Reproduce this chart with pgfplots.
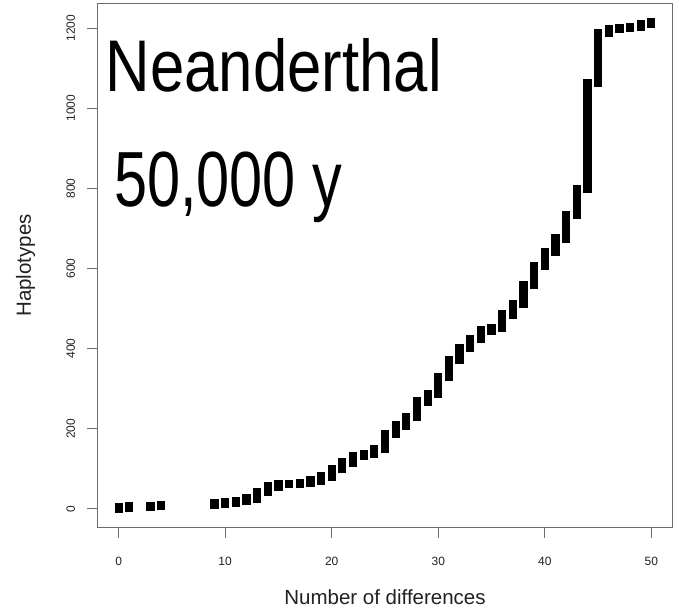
\documentclass[border=0pt]{standalone}
\usepackage{fontspec}
\setmainfont{Liberation Sans}
\newfontfamily\narrowA[FakeStretch=0.843]{Liberation Sans}
\newfontfamily\narrowB[FakeStretch=0.76]{Liberation Sans}
\usepackage{pgfplots}
\pgfplotsset{compat=1.18}
\definecolor{boxgray}{gray}{0.42}
\definecolor{labelgray}{gray}{0.13}

\begin{document}
\begin{tikzpicture}
\begin{axis}[
  scale only axis,
  width=575.4pt, height=524.4pt,
  xmin=-2, xmax=52, ymin=-47, ymax=1262,
  axis line style={draw=boxgray, line width=1.2pt},
  xtick={0,10,...,50}, ytick={0,200,...,1200},
  xtick pos=left, ytick pos=left,
  tick align=outside, major tick length=10pt,
  every tick/.style={draw=boxgray, line width=1.2pt},
  /pgf/number format/assume math mode=true,
  /pgf/number format/1000 sep={},
  tick label style={font=\fontsize{12}{14}\selectfont, text=labelgray, inner sep=0pt},
  xticklabel style={anchor=base, yshift=-27.3pt},
  yticklabel style={xshift=-12.3pt, rotate=90, anchor=base},
  xlabel={Number of differences},
  ylabel={Haplotypes},
  every axis x label/.style={at={(rel axis cs:0.5,0)}, anchor=base, yshift=-76.3pt,
    font=\fontsize{20.5}{24}\selectfont, text=labelgray, inner sep=0pt},
  every axis y label/.style={at={(rel axis cs:0,0.5)}, xshift=-66.3pt, rotate=90, anchor=base,
    font=\fontsize{20.5}{24}\selectfont, text=labelgray, inner sep=0pt},
  unbounded coords=jump,
]
% one thick segment per number of differences: haplotype index range
\addplot[black, line width=8.2pt, line cap=rect] coordinates {
  (0,0) (0,5) (0,nan)
  (1,3) (1,6) (1,nan)
  (3,4) (3,8) (3,nan)
  (4,7) (4,10) (4,nan)
  (9,9) (9,14) (9,nan)
  (10,13) (10,16) (10,nan)
  (11,15) (11,19) (11,nan)
  (12,19) (12,28) (12,nan)
  (13,25) (13,43) (13,nan)
  (14,42) (14,57) (14,nan)
  (15,56) (15,63) (15,nan)
  (16,62) (16,63) (16,nan)
  (17,63) (17,65) (17,nan)
  (18,64) (18,72) (18,nan)
  (19,70) (19,81) (19,nan)
  (20,81) (20,100) (20,nan)
  (21,100) (21,116) (21,nan)
  (22,115) (22,131) (22,nan)
  (23,131) (23,136) (23,nan)
  (24,136) (24,149) (24,nan)
  (25,149) (25,187) (25,nan)
  (26,187) (26,208) (26,nan)
  (27,208) (27,229) (27,nan)
  (28,229) (28,268) (28,nan)
  (29,268) (29,286) (29,nan)
  (30,286) (30,330) (30,nan)
  (31,330) (31,372) (31,nan)
  (32,372) (32,401) (32,nan)
  (33,401) (33,425) (33,nan)
  (34,425) (34,445) (34,nan)
  (35,445) (35,451) (35,nan)
  (36,451) (36,485) (36,nan)
  (37,485) (37,511) (37,nan)
  (38,511) (38,558) (38,nan)
  (39,558) (39,606) (39,nan)
  (40,606) (40,642) (40,nan)
  (41,642) (41,675) (41,nan)
  (42,675) (42,733) (42,nan)
  (43,733) (43,798) (43,nan)
  (44,798) (44,1063) (44,nan)
  (45,1063) (45,1187) (45,nan)
  (46,1187) (46,1197) (46,nan)
  (47,1197) (47,1200) (47,nan)
  (48,1200) (48,1202) (48,nan)
  (49,1202) (49,1210) (49,nan)
  (50,1210) (50,1214)
};
\end{axis}
\node[anchor=base west, inner sep=0pt] at (8.1pt,436pt)
  {\fontsize{73.2}{80}\narrowA Neanderthal};
\node[anchor=base west, inner sep=0pt] at (16.8pt,321pt)
  {\fontsize{78.2}{84}\narrowB 50,000 y};
\pgfresetboundingbox
\path[use as bounding box] (-97.3pt,-84.3pt) rectangle (581.7pt,527.7pt);
\end{tikzpicture}
\end{document}
